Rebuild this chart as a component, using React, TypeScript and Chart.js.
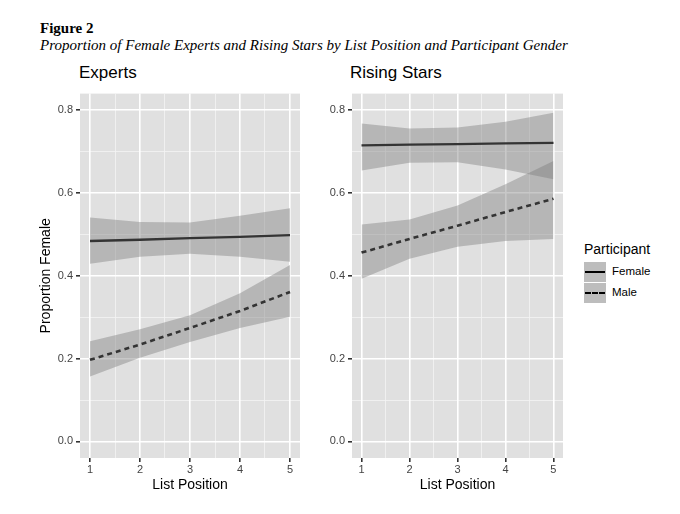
import { useEffect, useRef } from "react";
import { Chart, registerables } from "chart.js";

Chart.register(...registerables);

const positions = [1, 2, 3, 4, 5];
const xMinor = [1.5, 2.5, 3.5, 4.5];
const yTicks = [0, 0.2, 0.4, 0.6, 0.8];
const yMinor = [0.1, 0.3, 0.5, 0.7];

const expertsFemale = [0.484, 0.487, 0.491, 0.494, 0.498];
const expertsFemaleUpper = [0.541, 0.53, 0.529, 0.545, 0.563];
const expertsFemaleLower = [0.429, 0.446, 0.453, 0.446, 0.434];
const expertsMale = [0.197, 0.234, 0.274, 0.315, 0.361];
const expertsMaleUpper = [0.242, 0.271, 0.305, 0.358, 0.426];
const expertsMaleLower = [0.157, 0.202, 0.24, 0.274, 0.301];

const starsFemale = [0.715, 0.717, 0.718, 0.72, 0.721];
const starsFemaleUpper = [0.768, 0.756, 0.758, 0.772, 0.794];
const starsFemaleLower = [0.654, 0.673, 0.674, 0.657, 0.633];
const starsMale = [0.456, 0.489, 0.521, 0.554, 0.586];
const starsMaleUpper = [0.524, 0.536, 0.57, 0.621, 0.677];
const starsMaleLower = [0.393, 0.441, 0.47, 0.484, 0.489];

const PANEL_BG = "#e0e0e0";
const BAND = "rgba(125,125,125,0.42)";
const SANS = "'Liberation Sans', Arial, sans-serif";
const SERIF = "'Liberation Serif', 'Times New Roman', serif";

const pts = (ys: number[]) => positions.map((x, i) => ({ x, y: ys[i] }));

const panelBg = {
  id: "panelBg",
  beforeDraw(chart: any) {
    const { ctx, chartArea: a } = chart;
    ctx.save();
    ctx.fillStyle = PANEL_BG;
    ctx.fillRect(a.left, a.top, a.right - a.left, a.bottom - a.top);
    ctx.restore();
  },
};

interface PanelProps {
  left: number;
  width: number;
  axisWidth: number;
  yTitle: boolean;
  female: number[];
  femaleUpper: number[];
  femaleLower: number[];
  male: number[];
  maleUpper: number[];
  maleLower: number[];
}

function Panel(p: PanelProps) {
  const canvasRef = useRef<HTMLCanvasElement | null>(null);

  useEffect(() => {
    if (!canvasRef.current) return;

    const band = (ys: number[], fill: string | boolean) => ({
      data: pts(ys),
      borderWidth: 0,
      pointRadius: 0,
      backgroundColor: BAND,
      fill,
    });

    const chart = new Chart(canvasRef.current, {
      type: "line",
      data: {
        datasets: [
          band(p.femaleUpper, "+1"),
          band(p.femaleLower, false),
          band(p.maleUpper, "+1"),
          band(p.maleLower, false),
          {
            data: pts(p.female),
            borderColor: "#000",
            borderWidth: 2.3,
            pointRadius: 0,
            fill: false,
          },
          {
            data: pts(p.male),
            borderColor: "#000",
            borderWidth: 2.6,
            borderDash: [5, 4],
            pointRadius: 0,
            fill: false,
          },
        ] as any,
      },
      options: {
        responsive: false,
        animation: false,
        events: [],
        layout: { padding: { top: 4, right: 5, left: 0, bottom: 0 } },
        plugins: { legend: { display: false }, tooltip: { enabled: false } },
        scales: {
          xMinor: {
            type: "linear",
            position: "bottom",
            min: 0.8,
            max: 5.2,
            afterBuildTicks: (s: any) => {
              s.ticks = xMinor.map((value) => ({ value }));
            },
            afterFit: (s: any) => {
              s.height = 0;
            },
            grid: { color: "#f4f4f4", lineWidth: 0.8, drawTicks: false },
            border: { display: false },
            ticks: { display: false },
          },
          yMinor: {
            type: "linear",
            position: "left",
            min: -0.04,
            max: 0.84,
            afterBuildTicks: (s: any) => {
              s.ticks = yMinor.map((value) => ({ value }));
            },
            afterFit: (s: any) => {
              s.width = 0;
            },
            grid: { color: "#f4f4f4", lineWidth: 0.8, drawTicks: false },
            border: { display: false },
            ticks: { display: false },
          },
          x: {
            type: "linear",
            min: 0.8,
            max: 5.2,
            afterBuildTicks: (s: any) => {
              s.ticks = positions.map((value) => ({ value }));
            },
            afterFit: (s: any) => {
              s.height = 36;
            },
            grid: { color: "#ffffff", lineWidth: 1.6, tickColor: "#333", tickLength: 4 },
            border: { display: false },
            ticks: {
              color: "#444",
              font: { family: SANS, size: 11 },
              padding: 1,
              maxRotation: 0,
              autoSkip: false,
              callback: (v: any) => String(v),
            },
            title: {
              display: true,
              text: "List Position",
              color: "#000",
              font: { family: SANS, size: 14 },
              padding: { top: 0, bottom: 0 },
            },
          },
          y: {
            type: "linear",
            min: -0.04,
            max: 0.84,
            afterBuildTicks: (s: any) => {
              s.ticks = yTicks.map((value) => ({ value }));
            },
            afterFit: (s: any) => {
              s.width = p.axisWidth;
            },
            grid: { color: "#ffffff", lineWidth: 1.6, tickColor: "#333", tickLength: 4 },
            border: { display: false },
            ticks: {
              color: "#444",
              font: { family: SANS, size: 11 },
              padding: 3,
              autoSkip: false,
              callback: (v: any) => Number(v).toFixed(1),
            },
            title: {
              display: p.yTitle,
              text: "Proportion Female",
              color: "#000",
              font: { family: SANS, size: 14 },
              padding: { top: 0, bottom: 4 },
            },
          },
        },
      },
      plugins: [panelBg],
    });

    return () => chart.destroy();
  }, [p]);

  return (
    <canvas
      ref={canvasRef}
      width={p.width}
      height={410}
      style={{ position: "absolute", left: p.left, top: 84, width: p.width, height: 410 }}
    />
  );
}

const expertsProps: PanelProps = {
  left: 38,
  width: 267,
  axisWidth: 42,
  yTitle: true,
  female: expertsFemale,
  femaleUpper: expertsFemaleUpper,
  femaleLower: expertsFemaleLower,
  male: expertsMale,
  maleUpper: expertsMaleUpper,
  maleLower: expertsMaleLower,
};

const starsProps: PanelProps = {
  left: 322,
  width: 246,
  axisWidth: 30,
  yTitle: false,
  female: starsFemale,
  femaleUpper: starsFemaleUpper,
  femaleLower: starsFemaleLower,
  male: starsMale,
  maleUpper: starsMaleUpper,
  maleLower: starsMaleLower,
};

const keyBox = {
  position: "absolute" as const,
  left: 584,
  width: 22,
  height: 20,
  background: "#bdbdbd",
};

export default function App() {
  return (
    <div style={{ position: "absolute", left: 0, top: 0, width: 680, height: 514, background: "#fff" }}>
      <div style={{ position: "absolute", left: 40, top: 20, fontFamily: SERIF, fontWeight: "bold", fontSize: 15 }}>
        Figure 2
      </div>
      <div style={{ position: "absolute", left: 40, top: 37, fontFamily: SERIF, fontStyle: "italic", fontSize: 15, whiteSpace: "nowrap" }}>
        Proportion of Female Experts and Rising Stars by List Position and Participant Gender
      </div>
      <div style={{ position: "absolute", left: 79, top: 63, fontFamily: SANS, fontSize: 17 }}>Experts</div>
      <div style={{ position: "absolute", left: 350, top: 63, fontFamily: SANS, fontSize: 17 }}>Rising Stars</div>
      <Panel {...expertsProps} />
      <Panel {...starsProps} />
      <div style={{ position: "absolute", left: 584, top: 241, fontFamily: SANS, fontSize: 14 }}>Participant</div>
      <div style={{ ...keyBox, top: 262 }}>
        <div style={{ position: "absolute", left: 1, right: 1, top: 9, borderTop: "2px solid #000" }} />
      </div>
      <div style={{ ...keyBox, top: 283 }}>
        <div style={{ position: "absolute", left: 1, right: 1, top: 9, borderTop: "2px dashed #000" }} />
      </div>
      <div style={{ position: "absolute", left: 612, top: 265, fontFamily: SANS, fontSize: 11.5 }}>Female</div>
      <div style={{ position: "absolute", left: 612, top: 286, fontFamily: SANS, fontSize: 11.5 }}>Male</div>
    </div>
  );
}
